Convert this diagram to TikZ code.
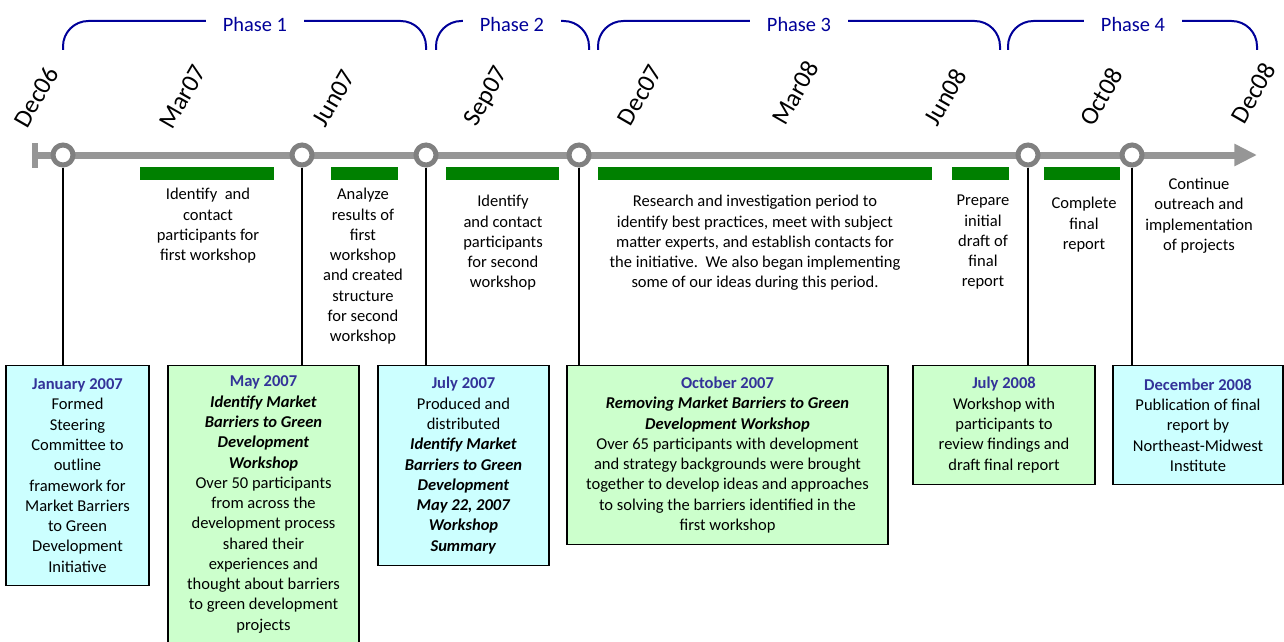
\documentclass[tikz,border=0pt]{standalone}
\usepackage{fontspec}
\setmainfont{Carlito}
\usetikzlibrary{arrows.meta}

\definecolor{axisgray}{RGB}{150,150,150}
\definecolor{ringgray}{RGB}{128,128,128}
\definecolor{bargreen}{RGB}{0,128,0}
\definecolor{boxcyan}{RGB}{204,255,255}
\definecolor{boxgreen}{RGB}{204,255,204}
\definecolor{titleblue}{RGB}{51,51,153}
\definecolor{phaseblue}{RGB}{0,0,153}

\newcommand{\bodyfont}{\fontsize{12.4}{15.2}\selectfont}
\newcommand{\evdate}[1]{{\color{titleblue}\textbf{#1}}}
\newcommand{\wshop}[1]{\textbf{\textit{#1}}}

\tikzset{
  milestone/.style={circle,draw=ringgray,fill=white,line width=3.75pt,
    minimum size=15pt,inner sep=0pt},
  datelbl/.style={rotate=60,font=\fontsize{19}{23}\selectfont},
  desc/.style={align=center,anchor=north,inner sep=0pt,font=\bodyfont},
  evbox/.style={draw=black,line width=0.8pt,align=center,anchor=north,
    inner sep=0pt,font=\bodyfont},
  cyanbox/.style={evbox,fill=boxcyan},
  greenbox/.style={evbox,fill=boxgreen},
  bracket/.style={draw=phaseblue,line width=1.5pt,rounded corners=19pt},
  phaselbl/.style={fill=white,text=phaseblue,font=\fontsize{15.3}{18}\selectfont,
    minimum width=74pt,inner sep=1pt},
  drop/.style={draw=black,line width=1.1pt},
}

\begin{document}
\begin{tikzpicture}[x=0.75pt,y=-0.75pt]
  % pixel grid: 1284 x 642, y grows downwards
  \useasboundingbox (0,0) rectangle (1284,642);
  \def\axisy{155}
  \def\boxtop{365}
  \def\bartop{167}
  \def\barbot{180}

  % phase brackets
  \draw[bracket] (63,50) -- (63,21) -- (426,21) -- (426,50);
  \draw[bracket] (436,50) -- (436,21) -- (589,21) -- (589,50);
  \draw[bracket] (598,50) -- (598,21) -- (1000,21) -- (1000,50);
  \draw[bracket] (1008,50) -- (1008,21) -- (1257,21) -- (1257,50);
  \node[phaselbl] (ph1) at (255,24) {Phase 1};
  \node[phaselbl] (ph2) at (512,24) {Phase 2};
  \node[phaselbl] (ph3) at (799,24) {Phase 3};
  \node[phaselbl] (ph4) at (1133,24) {Phase 4};

  % month labels
  \foreach \dx/\dy/\dt in {36/97/Dec06, 183/97/Mar07, 334/98/Jun07,
      487/97/Sep07, 640/95/Dec07, 795/93/Mar08, 945/97/Jun08,
      1101/97/Oct08, 1253/93/Dec08}{
    \node[datelbl] at (\dx,\dy) {\dt};}

  % time axis
  \coordinate (axstart) at (35,\axisy);
  \coordinate (axend) at (1257,\axisy);
  \draw[axisgray,line width=4.5pt] (35,143) -- (35,168);
  \draw[axisgray,line width=5.25pt,-{Triangle[length=17pt,width=15.75pt]}]
    (axstart) -- (axend);

  % activity bars
  \foreach \xa/\xb in {140/274, 331/398, 446/559, 598/932, 952/1009, 1044/1120}{
    \fill[bargreen] (\xa,\bartop) rectangle (\xb,\barbot);}

  % activities
  \node[desc] (act1) at (208,188) {Identify\ \ and\\contact\\participants for\\first workshop};
  \node[desc] (act2) at (363,188) {Analyze\\results of\\first\\workshop\\and created\\structure\\for second\\workshop};
  \node[desc] (act3) at (503,195) {Identify\\and contact\\participants\\for second\\workshop};
  \node[desc] (act4) at (755,195) {Research and investigation period to\\identify best practices, meet with subject\\matter experts, and establish contacts for\\the initiative.\ \ We also began implementing\\some of our ideas during this period.};
  \node[desc] (act5) at (983,195) {Prepare\\initial\\draft of\\final\\report};
  \node[desc] (act6) at (1084,197) {Complete\\final\\report};
  \node[desc] (act7) at (1199,178) {Continue\\outreach and\\implementation\\of projects};

  % events
  \node[cyanbox,minimum width=143*0.75pt,minimum height=220*0.75pt] (jan07) at (77.5,\boxtop)
    {\evdate{January 2007}\\Formed\\Steering\\Committee to\\outline\\framework for\\Market Barriers\\to Green\\Development\\Initiative};
  \node[greenbox,minimum width=191*0.75pt,minimum height=278*0.75pt] (may07) at (263.5,\boxtop)
    {\evdate{May 2007}\\\wshop{Identify Market}\\\wshop{Barriers to Green}\\\wshop{Development}\\\wshop{Workshop}\\Over 50 participants\\from across the\\development process\\shared their\\experiences and\\thought about barriers\\to green development\\projects};
  \node[cyanbox,minimum width=171*0.75pt,minimum height=200*0.75pt] (jul07) at (463.5,\boxtop)
    {\evdate{July 2007}\\Produced and\\distributed\\\wshop{Identify Market}\\\wshop{Barriers to Green}\\\wshop{Development}\\\wshop{May 22, 2007}\\\wshop{Workshop}\\\wshop{Summary}};
  \node[greenbox,minimum width=321*0.75pt,minimum height=179*0.75pt] (oct07) at (727.5,\boxtop)
    {\evdate{October 2007}\\\wshop{Removing Market Barriers to Green}\\\wshop{Development Workshop}\\Over 65 participants with development\\and strategy backgrounds were brought\\together to develop ideas and approaches\\to solving the barriers identified in the\\first workshop};
  \node[greenbox,minimum width=182*0.75pt,minimum height=119*0.75pt] (jul08) at (1004,\boxtop)
    {\evdate{July 2008}\\Workshop with\\participants to\\review findings and\\draft final report};
  \node[cyanbox,minimum width=170*0.75pt,minimum height=119*0.75pt] (dec08) at (1198,\boxtop)
    {\evdate{December 2008}\\Publication of final\\report by\\Northeast-Midwest\\Institute};

  % milestones on the axis
  \node[milestone] (m1) at (63,\axisy) {};
  \node[milestone] (m2) at (302,\axisy) {};
  \node[milestone] (m3) at (426,\axisy) {};
  \node[milestone] (m4) at (579,\axisy) {};
  \node[milestone] (m5) at (1028,\axisy) {};
  \node[milestone] (m6) at (1132,\axisy) {};

  % drop lines
  \draw[drop] (m1.south) -- (m1.south |- jan07.north);
  \draw[drop] (m2.south) -- (m2.south |- may07.north);
  \draw[drop] (m3.south) -- (m3.south |- jul07.north);
  \draw[drop] (m4.south) -- (m4.south |- oct07.north);
  \draw[drop] (m5.south) -- (m5.south |- jul08.north);
  \draw[drop] (m6.south) -- (m6.south |- dec08.north);
\end{tikzpicture}
\end{document}
